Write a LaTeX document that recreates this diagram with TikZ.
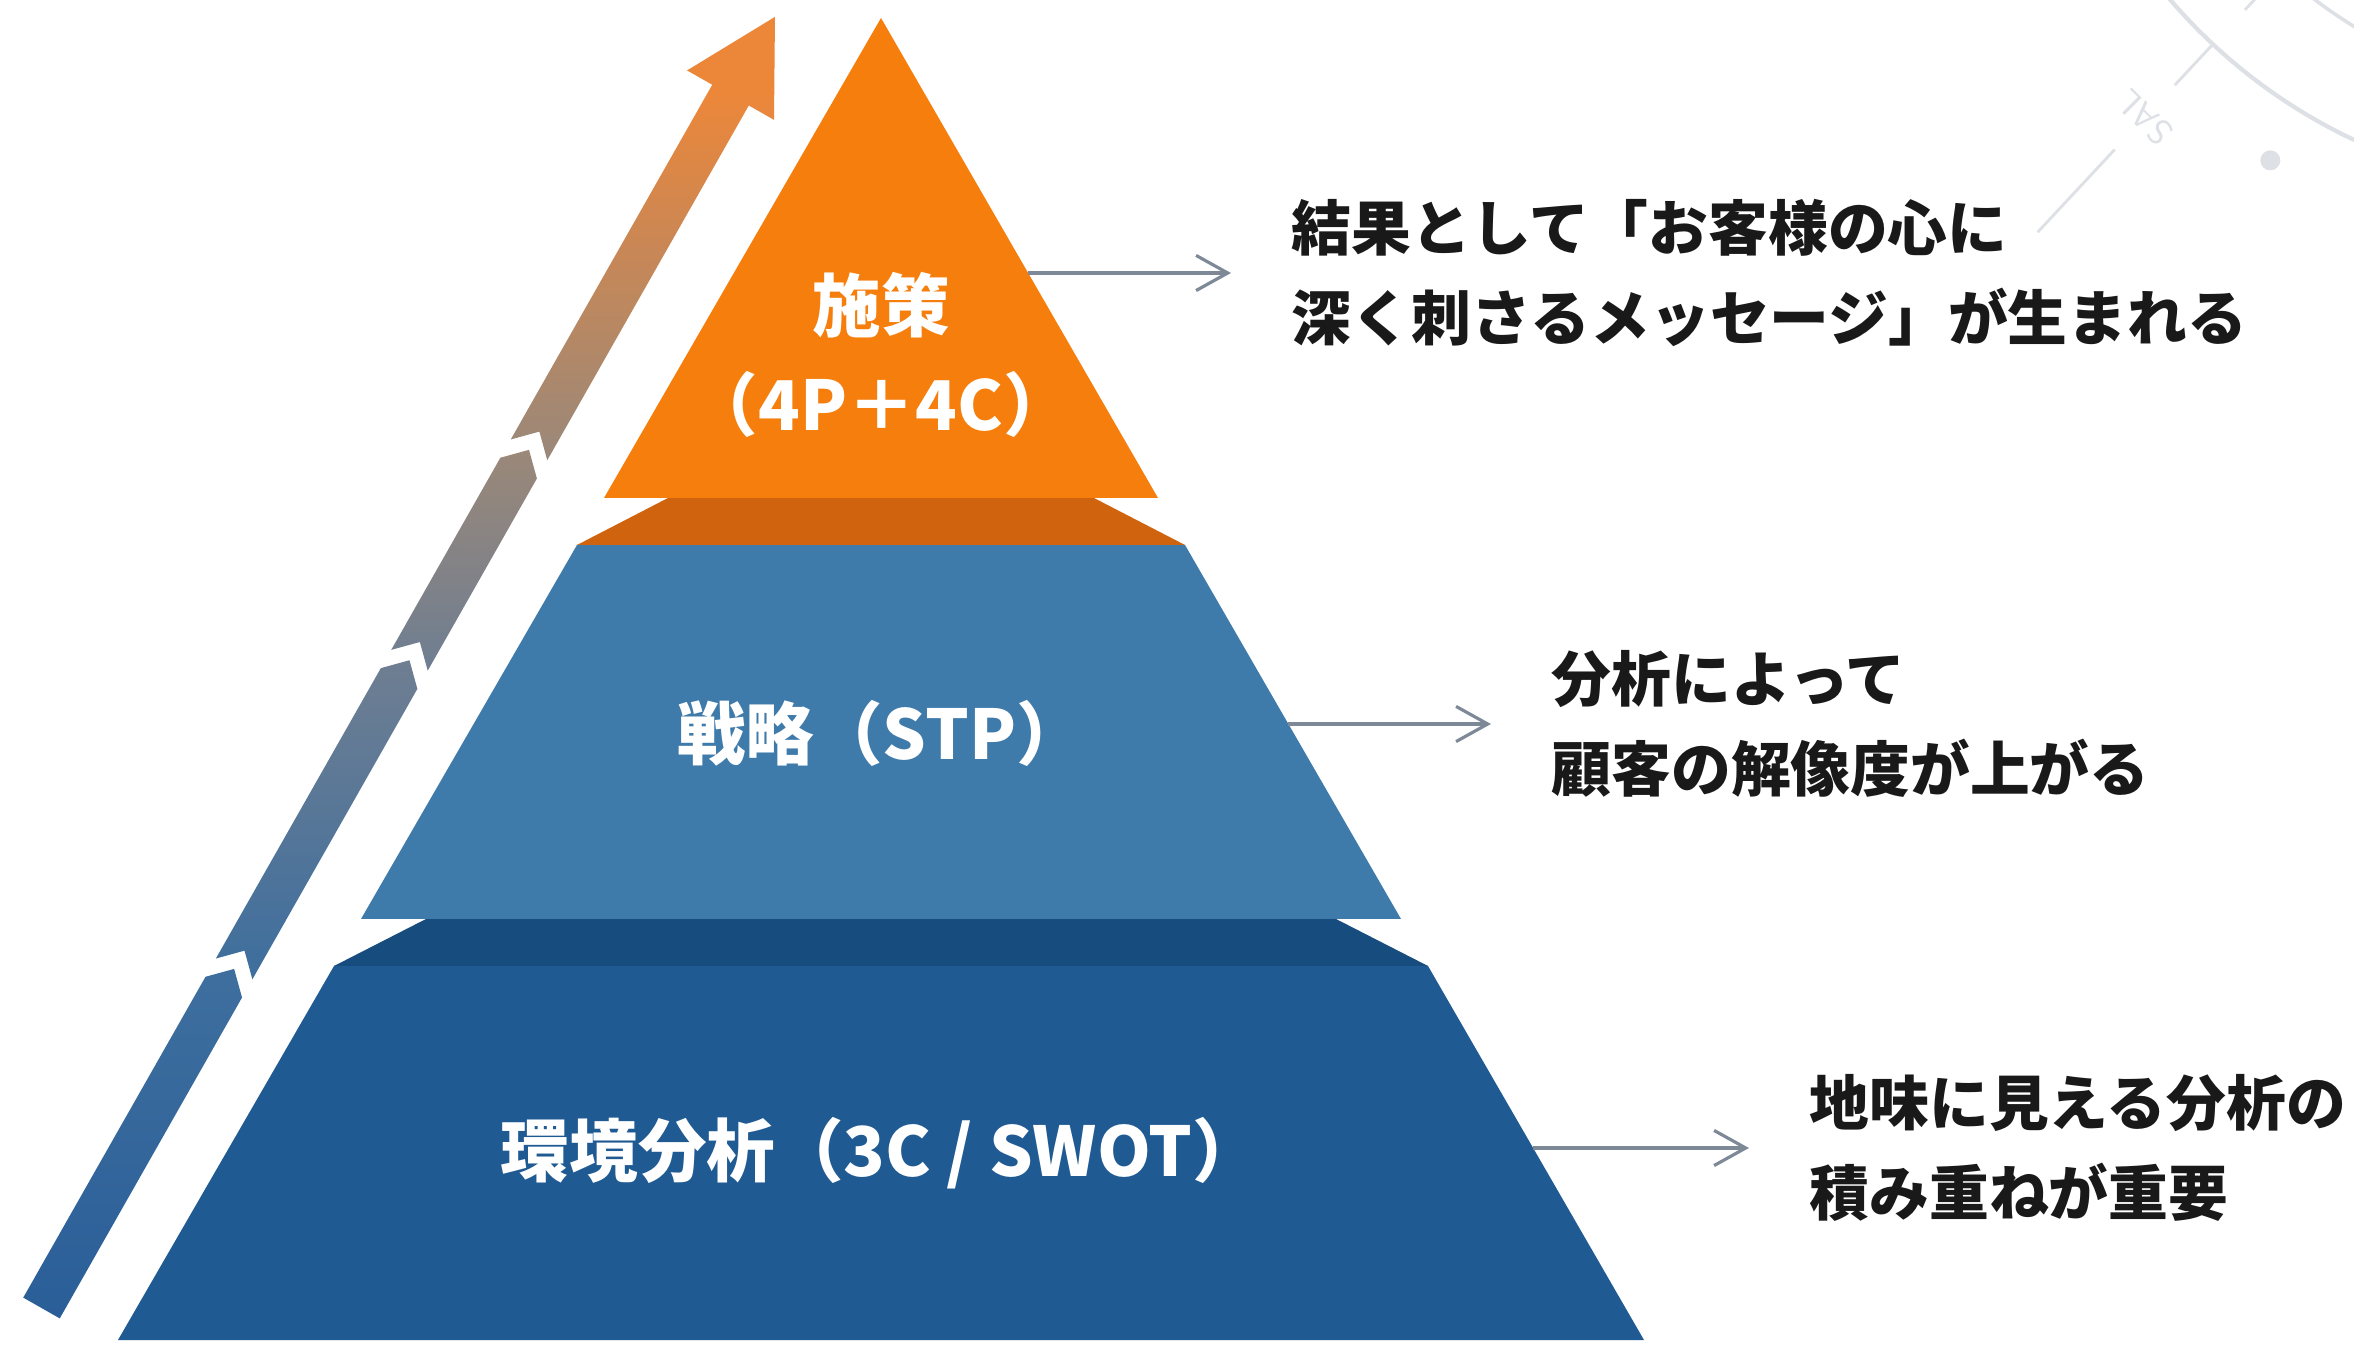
\documentclass[tikz,border=0pt]{standalone}
\usepackage{fontspec}
\newfontfamily\jp{Noto Sans CJK JP}
\usepackage{tikz}
\usetikzlibrary{arrows.meta}
\usepackage{xcolor}

\definecolor{topor}{HTML}{F67E0C}
\definecolor{shador}{HTML}{D0640E}
\definecolor{midbl}{HTML}{3E7AAA}
\definecolor{shadbl}{HTML}{174C7E}
\definecolor{lowbl}{HTML}{1F5A93}
\definecolor{pointgr}{HTML}{7D8997}
\definecolor{deco}{HTML}{DDE0E5}
\definecolor{ga}{HTML}{2A5E98}
\definecolor{gb}{HTML}{3D6E9E}
\definecolor{gc}{HTML}{6E7E92}
\definecolor{gd}{HTML}{9C8878}
\definecolor{ge}{HTML}{EC873A}
\pgfdeclareverticalshading{growth}{100bp}{color(0bp)=(ga); color(25bp)=(ga);
    color(38bp)=(gb); color(50bp)=(gc); color(58.5bp)=(gd); color(72bp)=(ge);
    color(100bp)=(ge)}

\begin{document}
\begin{tikzpicture}[x=0.01cm, y=0.01cm,
    layer/.style={font=\jp\bfseries\fontsize{19.5}{28}\selectfont, text=white,
        align=center, inner sep=0pt},
    note/.style={font=\jp\bfseries\fontsize{17}{25.6}\selectfont, text=black!90,
        align=left, anchor=west, inner sep=0pt},
    pointer/.style={draw=pointgr, line width=0.9pt,
        -{Straight Barb[length=9pt,width=10pt]}, shorten >=0.6cm}]

    \path[use as bounding box, fill=white] (0,0) rectangle (2354,1345);

    % faint dial, top right
    \begin{scope}
        \clip (0,0) rectangle (2354,1345);
        \coordinate (dc) at (2588,1703);
        \draw[deco, line width=1.2pt] (dc) circle[radius=550];
        \draw[deco, line width=1pt] (dc) circle[radius=450];
        \draw[deco, line width=0.8pt] ([shift={(227:440)}]dc) -- ([shift={(227:503)}]dc)
            ([shift={(227:550)}]dc) -- ([shift={(227:606)}]dc)
            ([shift={(227:694)}]dc) -- ([shift={(227:807)}]dc);
        \node[text=deco, font=\sffamily\fontsize{10}{12}\selectfont, rotate=135]
            (dial) at ([shift={(227:650)}]dc) {SAL};
        \fill[deco] ([shift={(238.5:608)}]dc) circle[radius=10];
    \end{scope}

    % pyramid
    \fill[lowbl]  (334,379) -- (1428,379) -- (1644,5) -- (118,5) -- cycle;
    \fill[shadbl] (426,426) -- (1336,426) -- (1428,379) -- (334,379) -- cycle;
    \fill[midbl]  (577,800) -- (1185,800) -- (1401,426) -- (361,426) -- cycle;
    \fill[shador] (668,847) -- (1094,847) -- (1185,800) -- (577,800) -- cycle;
    \fill[topor]  (881,1327) -- (1158,847) -- (604,847) -- cycle;

    \node[layer] (tip)  at (881,990) {施策\\（4P＋4C）};
    \node[layer] (mid)  at (881,612) {戦略（STP）};
    \node[layer] (base) at (881,192) {環境分析（3C / SWOT）};

    % growth arrow
    \begin{scope}
        \clip[shift={(41.5,37)}, rotate=60.4]
            (0,-21) -- (369,-21) -- (390,0) -- (369,21) -- (0,21) -- cycle
            (390,-21) -- (724,-21) -- (745,0) -- (724,21) -- (390,21) -- (411,0) -- cycle
            (745,-21) -- (966,-21) -- (987,0) -- (966,21) -- (745,21) -- (766,0) -- cycle
            (987,-21) -- (1395,-21) -- (1395,-50) -- (1485,0) -- (1395,50)
                -- (1395,21) -- (987,21) -- (1008,0) -- cycle;
        \shade[shading=growth] (0,25) rectangle (800,1330);
    \end{scope}

    \node[note] (n1) at (1291,1072) {結果として「お客様の心に\\深く刺さるメッセージ」が生まれる};
    \node[note] (n2) at (1551,621) {分析によって\\顧客の解像度が上がる};
    \node[note] (n3) at (1809,197) {地味に見える分析の\\積み重ねが重要};

    \coordinate (e1) at (1028,1072);
    \coordinate (e2) at (1288,621);
    \coordinate (e3) at (1533,197);
    \draw[pointer] (e1) -- (n1.west);
    \draw[pointer] (e2) -- (n2.west);
    \draw[pointer] (e3) -- (n3.west);

\end{tikzpicture}
\end{document}
